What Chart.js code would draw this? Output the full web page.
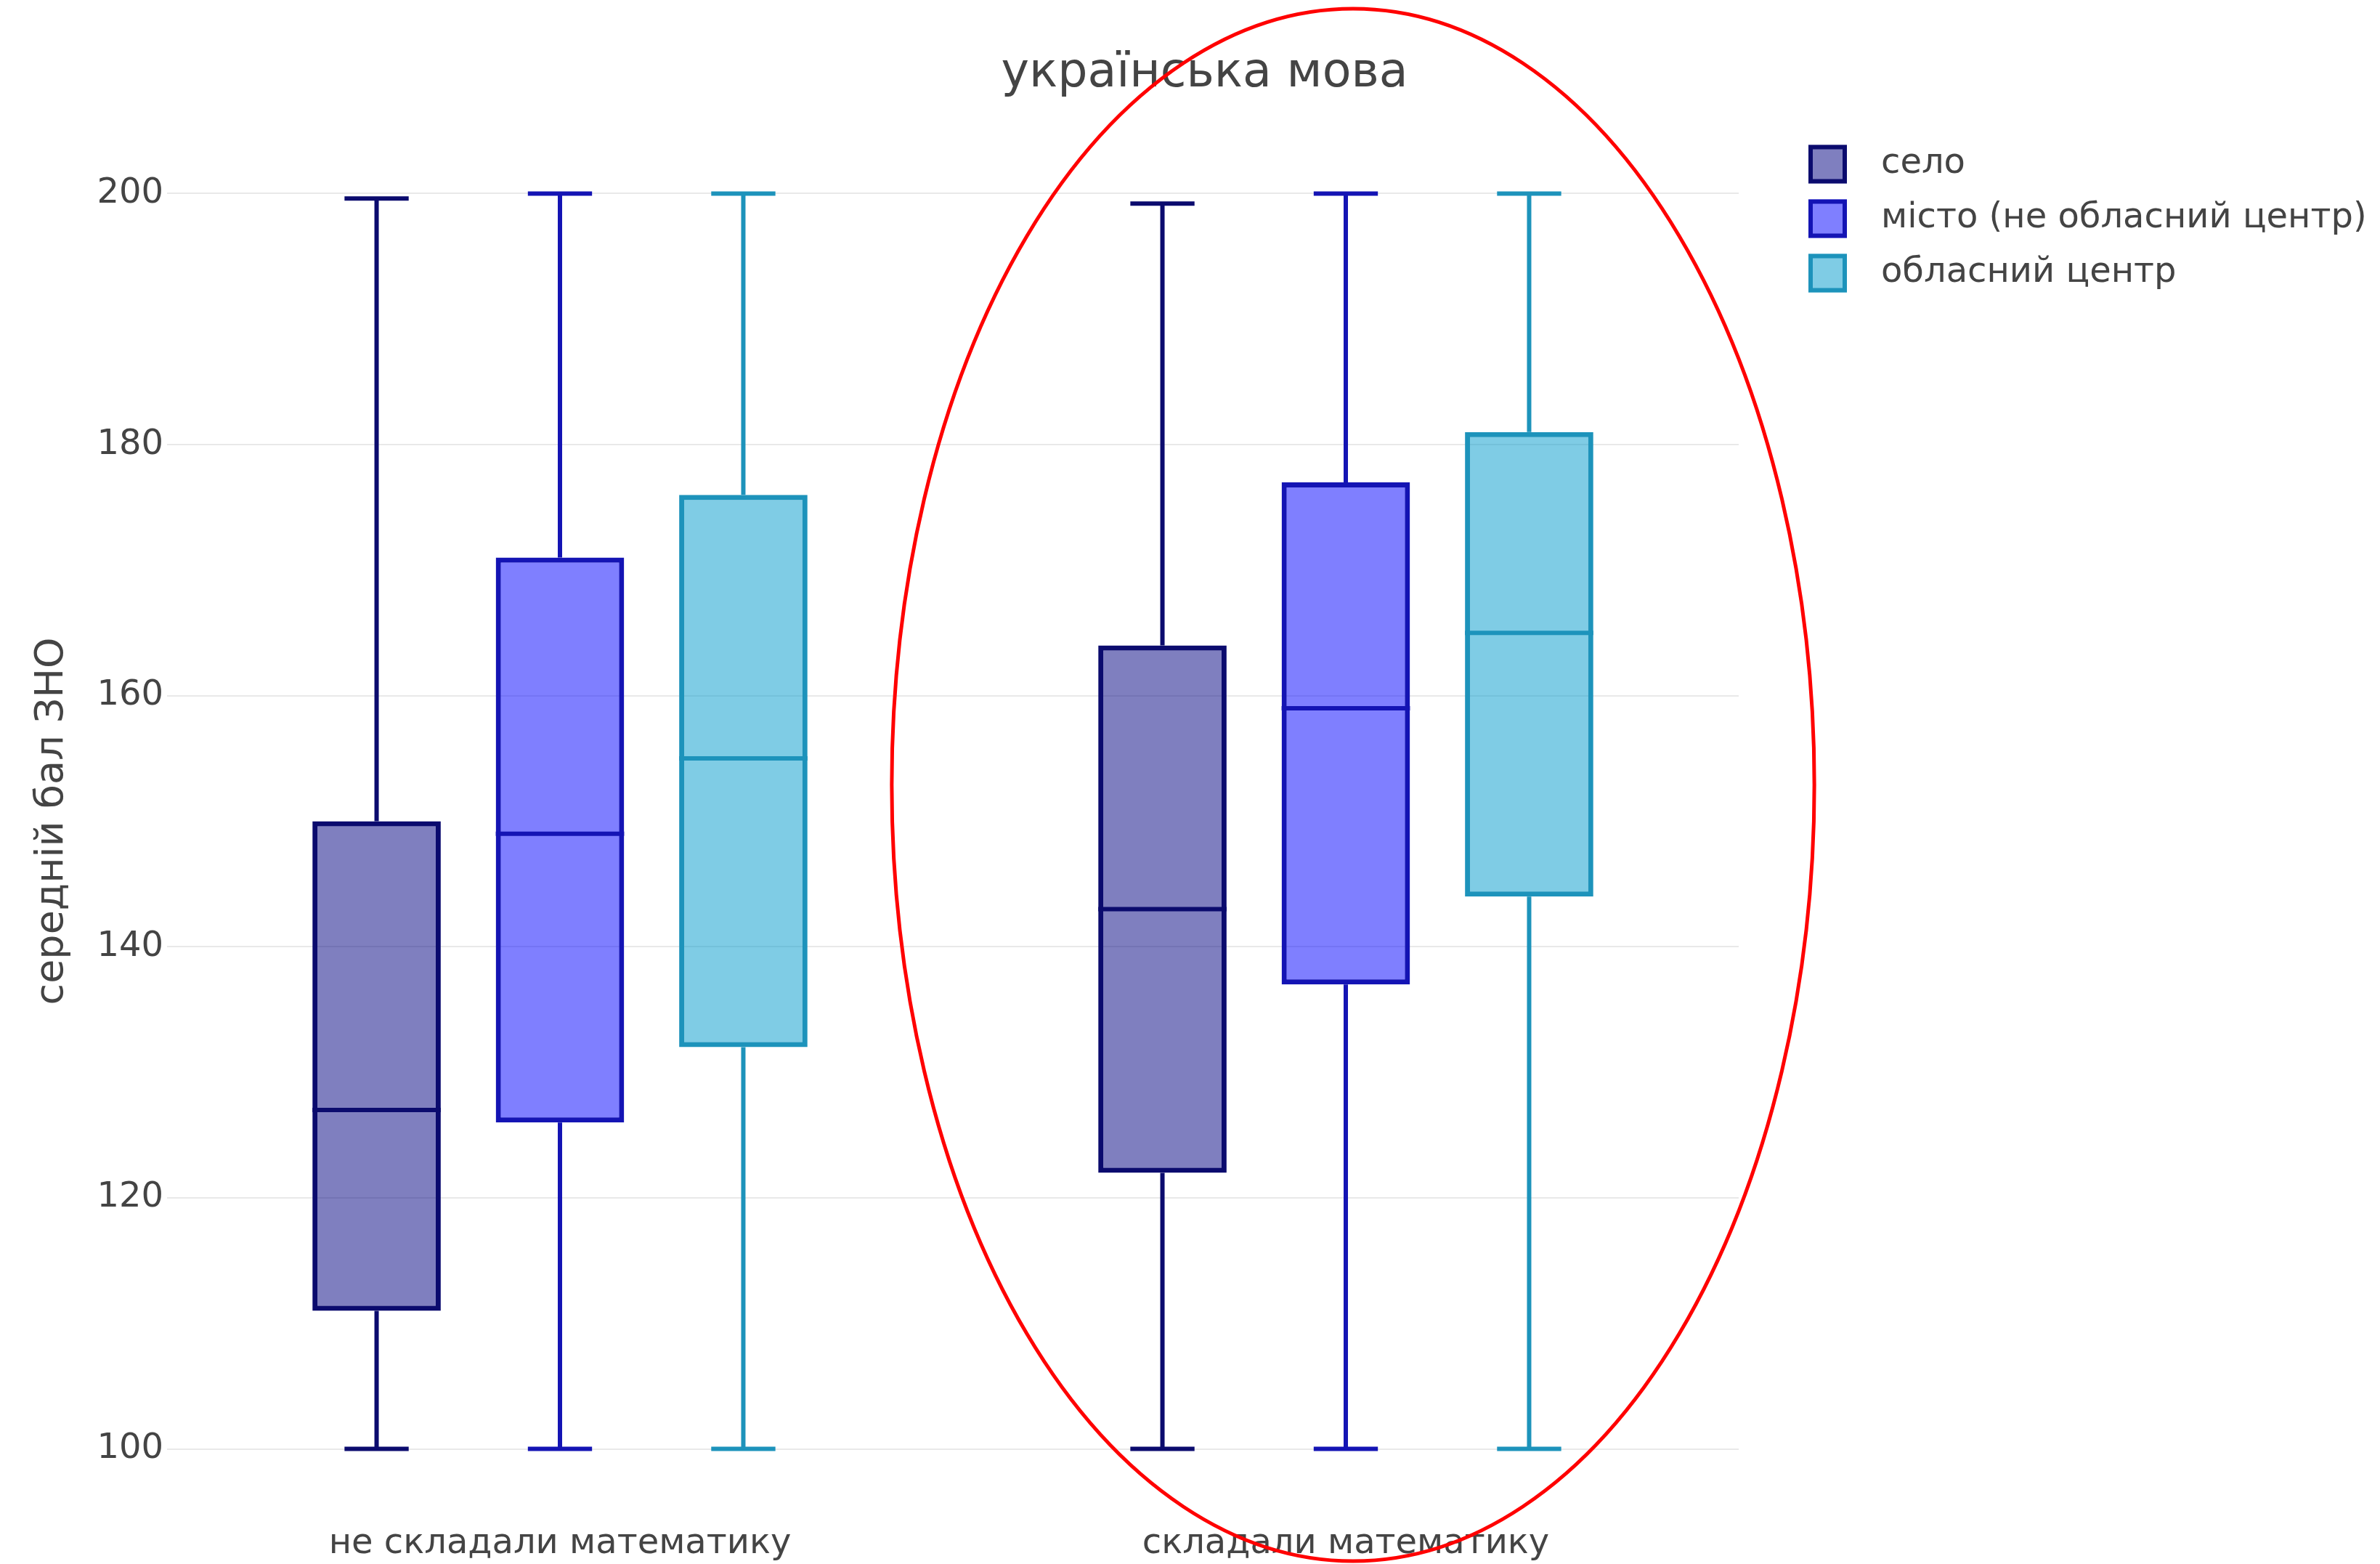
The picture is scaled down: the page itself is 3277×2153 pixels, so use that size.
<!DOCTYPE html>
<html>
<head>
<meta charset="utf-8">
<title>українська мова</title>
<script src="https://cdn.jsdelivr.net/npm/chart.js@4.4.0/dist/chart.umd.min.js"></script>
<style>
  html, body { margin: 0; padding: 0; background: #fff; }
  .BoxChart { width: 3277px; height: 2153px; position: relative; }
</style>
</head>
<body>
<div class="BoxChart">
  <canvas id="BoxChart"></canvas>
</div>
<script>
// data
var categories = ['не складали математику', 'складали математику'];
var seriesNames = ['село', 'місто (не обласний центр)', 'обласний центр'];

// one row per series, one value per category
var mins    = [[100, 100],   [100, 100], [100, 100]];
var q1s     = [[111, 122],   [126, 137], [132, 144]];
var medians = [[127, 143],   [149, 159], [155, 165]];
var q3s     = [[150, 164],   [171, 177], [176, 181]];
var maxs    = [[199.6, 199.2], [200, 200], [200, 200]];

var yTicks = [100, 120, 140, 160, 180, 200];

var fills = ['rgba(0, 0, 128, 0.5)', 'rgba(0, 0, 255, 0.5)', 'rgba(0, 153, 204, 0.5)'];
var lines = ['#0b0b6e', '#1414b4', '#1d93bb'];

var font = '"DejaVu Sans", Verdana, sans-serif';
var textColor = '#444';

var datasets = seriesNames.map(function(name, i) {
  return {
    label: name,
    data: q1s[i].map(function(v, j) { return [v, q3s[i][j]]; }),
    backgroundColor: fills[i],
    borderColor: lines[i],
    borderWidth: 7,
    borderSkipped: false,
    categoryPercentage: 0.7,
    barPercentage: 0.7
  };
});

// whiskers, caps and medians on top of the floating bars
var boxParts = {
  id: 'boxParts',
  afterDatasetsDraw: function(chart) {
    var ctx = chart.ctx;
    var y = chart.scales.y;
    ctx.save();
    ctx.lineWidth = 6;
    chart.data.datasets.forEach(function(ds, i) {
      var meta = chart.getDatasetMeta(i);
      meta.data.forEach(function(bar, j) {
        var x = bar.x, w = bar.width;
        var pMin = y.getPixelForValue(mins[i][j]);
        var pMax = y.getPixelForValue(maxs[i][j]);
        var pQ1 = y.getPixelForValue(q1s[i][j]);
        var pQ3 = y.getPixelForValue(q3s[i][j]);
        var pMed = y.getPixelForValue(medians[i][j]);
        ctx.strokeStyle = lines[i];
        ctx.beginPath();
        ctx.moveTo(x, pQ3); ctx.lineTo(x, pMax);
        ctx.moveTo(x, pQ1); ctx.lineTo(x, pMin);
        ctx.moveTo(x - w / 4, pMax); ctx.lineTo(x + w / 4, pMax);
        ctx.moveTo(x - w / 4, pMin); ctx.lineTo(x + w / 4, pMin);
        ctx.moveTo(x - w / 2, pMed); ctx.lineTo(x + w / 2, pMed);
        ctx.stroke();
      });
    });
    ctx.restore();
  }
};

// legend to the right of the plot
var sideLegend = {
  id: 'sideLegend',
  afterDraw: function(chart) {
    var ctx = chart.ctx;
    var area = chart.chartArea;
    var x0 = area.right + 96;
    var size = 53;
    ctx.save();
    ctx.font = '48px ' + font;
    ctx.textBaseline = 'middle';
    ctx.textAlign = 'left';
    seriesNames.forEach(function(name, i) {
      var cy = area.top + 46 + i * 75;
      ctx.fillStyle = '#fff';
      ctx.fillRect(x0, cy - size / 2, size, size);
      ctx.fillStyle = fills[i];
      ctx.fillRect(x0, cy - size / 2, size, size);
      ctx.lineWidth = 6;
      ctx.strokeStyle = lines[i];
      ctx.strokeRect(x0 + 3, cy - size / 2 + 3, size - 6, size - 6);
      ctx.fillStyle = textColor;
      ctx.fillText(name, x0 + 100, cy);
    });
    ctx.restore();
  }
};

// red hand drawn ellipse round the second group
var ring = {
  id: 'ring',
  afterDraw: function(chart) {
    var ctx = chart.ctx;
    var xs = chart.scales.x;
    var catW = xs.getPixelForValue(1) - xs.getPixelForValue(0);
    ctx.save();
    ctx.strokeStyle = '#ff0000';
    ctx.lineWidth = 5;
    ctx.beginPath();
    ctx.ellipse(xs.getPixelForValue(1) + 10, chart.height / 2 + 4, catW * 0.587, chart.height / 2 - 8, 0, 0, Math.PI * 2);
    ctx.stroke();
    ctx.restore();
  }
};

var ctx = document.getElementById('BoxChart').getContext('2d');
var chart = new Chart(ctx, {
  type: 'bar',
  data: {
    labels: categories,
    datasets: datasets
  },
  plugins: [boxParts, sideLegend, ring],
  options: {
    responsive: true,
    maintainAspectRatio: false,
    animation: false,
    layout: { padding: { left: 40, right: 0, top: 0, bottom: 0 } },
    plugins: {
      legend: { display: false },
      tooltip: { enabled: false },
      title: {
        display: true,
        text: 'українська мова',
        color: textColor,
        font: { family: font, size: 65, weight: 'normal' },
        padding: { top: 63, bottom: 39 }
      }
    },
    scales: {
      x: {
        afterFit: function(axis) { axis.height = 72; },
        grid: { display: false, drawTicks: false },
        border: { display: false },
        ticks: { color: textColor, font: { family: font, size: 48 }, padding: 16 }
      },
      y: {
        min: 95,
        max: 205,
        afterBuildTicks: function(axis) {
          axis.ticks = yTicks.map(function(v) { return { value: v }; });
        },
        afterFit: function(axis) { axis.width = 190; },
        grid: { color: '#e9e9e9', lineWidth: 2, drawTicks: false },
        border: { display: false },
        ticks: { color: textColor, font: { family: font, size: 48 }, padding: 5 },
        title: {
          display: true,
          text: 'середній бал ЗНО',
          color: textColor,
          font: { family: font, size: 54 },
          padding: { top: 0 }
        }
      },
      // empty axis that keeps room for the legend on the right
      side: {
        type: 'linear',
        position: 'right',
        afterFit: function(axis) { axis.width = 883; },
        grid: { display: false, drawTicks: false },
        border: { display: false },
        ticks: { display: false }
      }
    }
  }
});
</script>
</body>
</html>
